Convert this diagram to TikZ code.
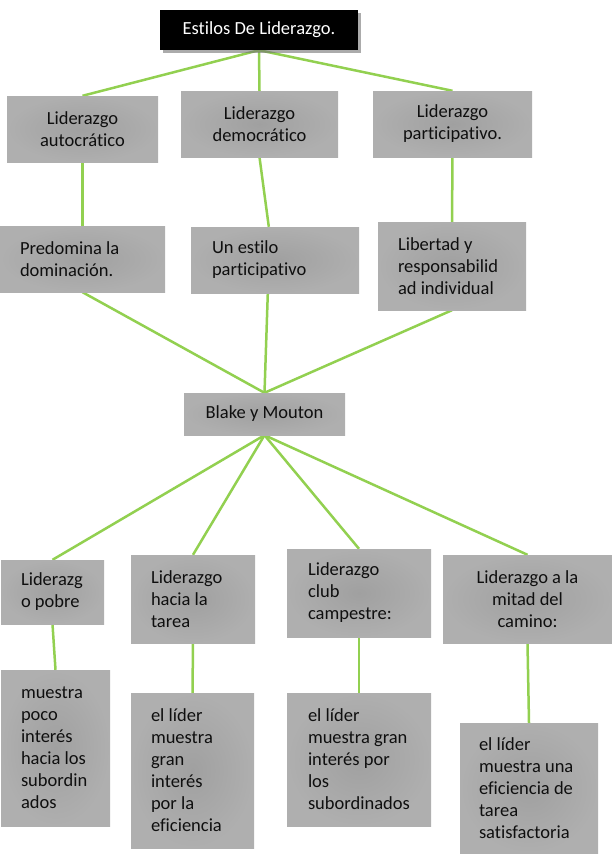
\documentclass[tikz,border=0pt]{standalone}
\usepackage{fontspec}
\setmainfont{Carlito}[Ligatures={NoCommon}]
\usetikzlibrary{shadows,calc,backgrounds}
\definecolor{lgreen}{RGB}{146,208,80}
\definecolor{gin}{RGB}{160,160,160}
\definecolor{gout}{RGB}{175,175,175}
\definecolor{txtc}{RGB}{15,15,15}
\tikzset{
  gbox/.style={draw=none, shading=radial, inner color=gin, outer color=gout,
    inner sep=0pt, align=center, text=txtc, font=\fontsize{18.5}{22}\selectfont},
  tbox/.style={fill=black, draw=none, inner sep=0pt, align=center, text=white,
    font=\fontsize{18.5}{22}\selectfont,
    drop shadow={shadow xshift=3pt, shadow yshift=-3pt, fill=black!55, opacity=0.6}},
  txt/.style={inner sep=0pt, align=left, text=txtc, font=\fontsize{18.5}{22}\selectfont, anchor=west},
  conn/.style={draw=lgreen, line width=2.5pt}
}
\newcommand\bx[7]{%
  \node[#6, minimum width={(#4-#2)*1pt}, minimum height={(#5-#3)*1pt}] (#1)
    at ({(#2+#4)/2},{-(#3+#5)/2}) {#7};}
\begin{document}
\begin{tikzpicture}[x=1pt,y=1pt]
\useasboundingbox (0,0) rectangle (612,-854);
\bx{title}{160}{10}{358}{50}{tbox}{Estilos De Liderazgo.}
\bx{auto}{7}{96}{158}{162}{gbox}{Liderazgo\\autocrático}
\bx{demo}{181}{91}{338}{157}{gbox}{Liderazgo\\democrático}
\bx{part}{373}{91}{532}{157}{gbox}{Liderazgo\\participativo.}
\bx{pred}{0}{226}{165}{292}{gbox}{}
\node[txt] (pred-t) at ([xshift=20pt]pred.west) {Predomina la\\dominación.};
\bx{estilo}{191}{227}{359}{293}{gbox}{}
\node[txt] (estilo-t) at ([xshift=21pt]estilo.west) {Un estilo\\participativo};
\bx{lib}{378}{222}{526}{310}{gbox}{}
\node[txt] (lib-t) at ([xshift=20pt]lib.west) {Libertad y\\responsabilid\\ad individual};
\bx{blake}{184}{393}{345}{435}{gbox}{Blake y Mouton}
\bx{pobre}{1}{560}{104}{624}{gbox}{}
\node[txt] (pobre-t) at ([xshift=20pt]pobre.west) {Liderazg\\o pobre};
\bx{tarea}{131}{555}{255}{643}{gbox}{}
\node[txt] (tarea-t) at ([xshift=20pt]tarea.west) {Liderazgo\\hacia la\\tarea};
\bx{club}{287}{549}{431}{637}{gbox}{}
\node[txt] (club-t) at ([xshift=21pt]club.west) {Liderazgo\\club\\campestre:};
\bx{mitad}{443}{555}{612}{643}{gbox}{Liderazgo a la\\mitad del\\camino:}
\bx{muestra}{1}{670}{110}{826}{gbox}{}
\node[txt] (muestra-t) at ([xshift=20pt]muestra.west) {muestra\\poco\\interés\\hacia los\\subordin\\ados};
\bx{lider1}{131}{693}{254}{848}{gbox}{}
\node[txt] (lider1-t) at ([xshift=20pt]lider1.west) {el líder\\muestra\\gran\\interés\\por la\\eficiencia};
\bx{lider2}{287}{693}{431}{826}{gbox}{}
\node[txt] (lider2-t) at ([xshift=21pt]lider2.west) {el líder\\muestra gran\\interés por\\los\\subordinados};
\bx{lider3}{460}{723}{598}{853}{gbox}{}
\node[txt] (lider3-t) at ([xshift=19pt]lider3.west) {el líder\\muestra una\\eficiencia de\\tarea\\satisfactoria};
\begin{scope}[on background layer]
\draw[conn] (title.south) -- (auto.north);
\draw[conn] (title.south) -- (demo.north);
\draw[conn] (title.south) -- (part.north);
\draw[conn] (auto.south) -- (pred.north);
\draw[conn] (demo.south) -- ($(estilo.north west)+(78,0)$);
\draw[conn] (part.south) -- (lib.north);
\draw[conn] (pred.south) -- (blake.north);
\draw[conn] ($(estilo.south west)+(77,0)$) -- (blake.north);
\draw[conn] (lib.south) -- (blake.north);
\draw[conn] (blake.south) -- (pobre.north);
\draw[conn] (blake.south) -- (tarea.north);
\draw[conn] (blake.south) -- (club.north);
\draw[conn] (blake.south) -- (mitad.north);
\draw[conn] (pobre.south) -- (muestra.north);
\draw[conn] (tarea.south) -- (lider1.north);
\draw[conn] (club.south) -- (lider2.north);
\draw[conn] (mitad.south) -- (lider3.north);
\end{scope}
\end{tikzpicture}
\end{document}
